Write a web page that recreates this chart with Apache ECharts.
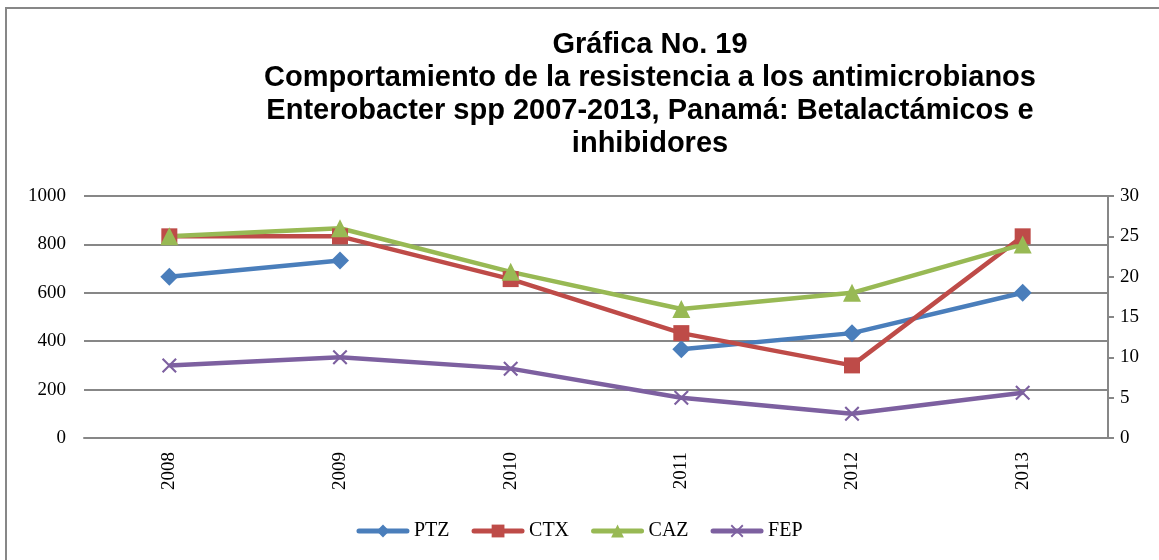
<!DOCTYPE html>
<html>
<head>
<meta charset="utf-8">
<script src="https://cdn.jsdelivr.net/npm/echarts@6/dist/echarts.min.js"></script>
<style>
  html, body { margin: 0; padding: 0; background: #fff; }
  #frame {
    position: absolute; left: 5px; top: 7px; width: 1154px; height: 553px;
    border-left: 2px solid #878787; border-top: 2px solid #878787;
  }
  #chart { position: absolute; left: 0; top: 0; width: 1159px; height: 560px; }
</style>
</head>
<body>
<div id="frame"></div>
<div id="chart"></div>
<script>
const years = ["2008", "2009", "2010", "2011", "2012", "2013"];
const ptz = [20, 22, null, 11, 13, 18];
const ctx = [25, 25, 19.7, 13, 9, 25];
const caz = [25, 26, 20.6, 16, 18, 24];
const fep = [9, 10, 8.6, 5, 3, 5.6];

const serif = "'Liberation Serif', 'Times New Roman', serif";
const crossPath = "path://M0,1L1,0L5,4L9,0L10,1L6,5L10,9L9,10L5,6L1,10L0,9L4,5Z";

const buildSeries = (name, data, color, symbol, size) => ({
  name,
  type: "line",
  yAxisIndex: 1,
  data,
  symbol,
  symbolSize: size,
  connectNulls: false,
  lineStyle: { width: 4.5, color },
  itemStyle: { color },
  emphasis: { disabled: true },
  z: 3
});

const chart = echarts.init(document.getElementById("chart"));
chart.setOption({
  animation: false,
  title: {
    text: "Gráfica No. 19\nComportamiento de la resistencia a los antimicrobianos\nEnterobacter spp 2007-2013, Panamá: Betalactámicos e\ninhibidores",
    left: 650,
    textAlign: "center",
    top: 28,
    padding: 0,
    textStyle: {
      fontFamily: "'Liberation Sans', Arial, sans-serif",
      fontWeight: "bold",
      fontSize: 29,
      lineHeight: 33,
      color: "#000"
    }
  },
  legend: {
    bottom: 14,
    left: "center",
    itemWidth: 48,
    itemHeight: 16,
    itemGap: 22,
    lineStyle: { width: 5, cap: "round" },
    textStyle: { fontFamily: serif, fontSize: 20, color: "#000", padding: [0, 0, 0, 2] },
    data: ["PTZ", "CTX", "CAZ", "FEP"]
  },
  grid: { left: 84, right: 51, top: 196, bottom: 122 },
  xAxis: {
    type: "category",
    data: years,
    boundaryGap: true,
    axisLine: { show: true, lineStyle: { color: "#878787", width: 2 } },
    axisTick: { show: false },
    axisLabel: {
      rotate: 90,
      margin: 14,
      fontFamily: serif,
      fontSize: 19,
      color: "#000"
    }
  },
  yAxis: [
    {
      type: "value",
      min: 0,
      max: 1000,
      interval: 200,
      axisLine: { show: false },
      axisTick: { show: false },
      axisLabel: { fontFamily: serif, fontSize: 19, color: "#000", margin: 18, formatter: (v) => String(v) },
      splitLine: { lineStyle: { color: "#878787", width: 2 } }
    },
    {
      type: "value",
      min: 0,
      max: 30,
      interval: 5,
      position: "right",
      axisLine: { show: true, lineStyle: { color: "#878787", width: 2 } },
      axisTick: { show: true, length: 6, lineStyle: { color: "#878787", width: 2 } },
      axisLabel: { fontFamily: serif, fontSize: 19, color: "#000", margin: 12 },
      splitLine: { show: false }
    }
  ],
  series: [
    buildSeries("PTZ", ptz, "#4A7EBB", "diamond", 18),
    buildSeries("CTX", ctx, "#BE4B48", "rect", 16),
    buildSeries("CAZ", caz, "#98B954", "triangle", 18),
    buildSeries("FEP", fep, "#7D60A0", crossPath, 15)
  ]
});
</script>
</body>
</html>
